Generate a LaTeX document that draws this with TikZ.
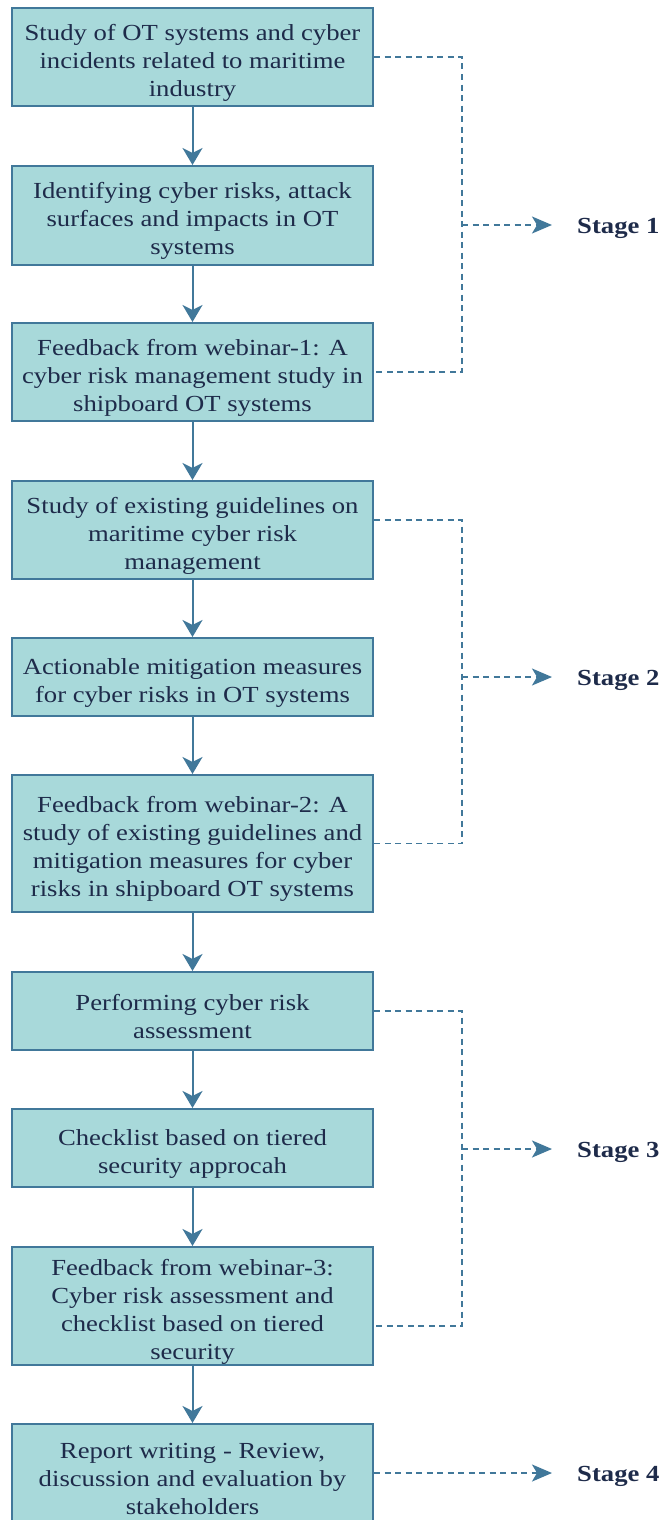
\documentclass[tikz,border=0pt]{standalone}
\usepackage{fontspec}
\setmainfont{Liberation Serif}[FakeStretch=1.16]
\usetikzlibrary{arrows.meta}
\usetikzlibrary{calc}

\definecolor{boxfill}{HTML}{A8D9DA}
\definecolor{boxline}{HTML}{41789A}
\definecolor{textnavy}{HTML}{1E2B4A}

% taller first line, pushes the text block a little down
\newcommand{\bs}{\rule{0pt}{27pt}}

\tikzset{
  stepbox/.style={draw=boxline, line width=2pt, fill=boxfill, text=textnavy, align=center,
    minimum width=361pt, inner sep=0pt, font=\fontsize{23}{28}\selectfont},
  flow/.style={boxline, line width=2pt, -{Stealth[length=17pt, width=20pt, inset=5pt]}},
  link/.style={boxline, line width=1.7pt, dash pattern=on 6pt off 4.5pt},
  linkarrow/.style={link, -{Stealth[length=20pt, width=17pt, inset=5pt]}, shorten >=25pt},
  stagelabel/.style={text=textnavy, font=\fontsize{23}{28}\selectfont\bfseries, anchor=west, inner sep=0pt}
}

\begin{document}
\begin{tikzpicture}[x=1pt, y=-1pt]

    \useasboundingbox (0,0) rectangle (663,1520);

    % boxes
    \node [stepbox, minimum height=98pt] (b1) at (192.5, 57) {\bs Study of OT systems and cyber\\incidents related to maritime\\industry};
    \node [stepbox, minimum height=99pt] (b2) at (192.5, 215.5) {\bs Identifying cyber risks, attack\\surfaces and impacts in OT\\systems};
    \node [stepbox, minimum height=98pt] (b3) at (192.5, 372) {\bs Feedback from webinar-1: A\\cyber risk management study in\\shipboard OT systems};
    \node [stepbox, minimum height=98pt] (b4) at (192.5, 530) {\bs Study of existing guidelines on\\maritime cyber risk\\management};
    \node [stepbox, minimum height=78pt] (b5) at (192.5, 677) {\bs Actionable mitigation measures\\for cyber risks in OT systems};
    \node [stepbox, minimum height=137pt] (b6) at (192.5, 843.5) {\bs Feedback from webinar-2: A\\study of existing guidelines and\\mitigation measures for cyber\\risks in shipboard OT systems};
    \node [stepbox, minimum height=78pt] (b7) at (192.5, 1011) {\bs Performing cyber risk\\assessment};
    \node [stepbox, minimum height=78pt] (b8) at (192.5, 1148) {\bs Checklist based on tiered\\security approcah};
    \node [stepbox, minimum height=118pt] (b9) at (192.5, 1306) {\bs Feedback from webinar-3:\\Cyber risk assessment and\\checklist based on tiered\\security};
    \node [stepbox, minimum height=98pt] (b10) at (192.5, 1473) {\bs Report writing - Review,\\discussion and evaluation by\\stakeholders};

    \foreach \a/\b in {b1/b2, b2/b3, b3/b4, b4/b5, b5/b6, b6/b7, b7/b8, b8/b9, b9/b10}
        \draw [flow] (\a) -- (\b);

    % stage labels
    \node [stagelabel] (st1) at (577, 228) {Stage 1};
    \node [stagelabel] (st2) at (577, 680) {Stage 2};
    \node [stagelabel] (st3) at (577, 1152) {Stage 3};
    \node [stagelabel] (st4) at (577, 1476) {Stage 4};

    % brackets
    \coordinate (s1top) at (462, 57);
    \coordinate (s1bot) at (462, 372);
    \coordinate (s1mid) at (462, 225);
    \draw [link] (b1.east) -- (s1top) -- (s1bot) -- (b3.east);
    \draw [linkarrow] (s1mid) -- (s1mid -| st1.west);

    \coordinate (s2top) at (462, 520);
    \coordinate (s2bot) at (462, 843.5);
    \coordinate (s2mid) at (462, 677);
    \draw [link] (s2top -| b4.east) -- (s2top) -- (s2bot) -- (b6.east);
    \draw [linkarrow] (s2mid) -- (s2mid -| st2.west);

    \coordinate (s3top) at (462, 1011);
    \coordinate (s3bot) at (462, 1326);
    \coordinate (s3mid) at (462, 1149);
    \draw [link] (b7.east) -- (s3top) -- (s3bot) -- (s3bot -| b9.east);
    \draw [linkarrow] (s3mid) -- (s3mid -| st3.west);

    \draw [linkarrow] (b10.east) -- (b10.east -| st4.west);

\end{tikzpicture}
\end{document}
